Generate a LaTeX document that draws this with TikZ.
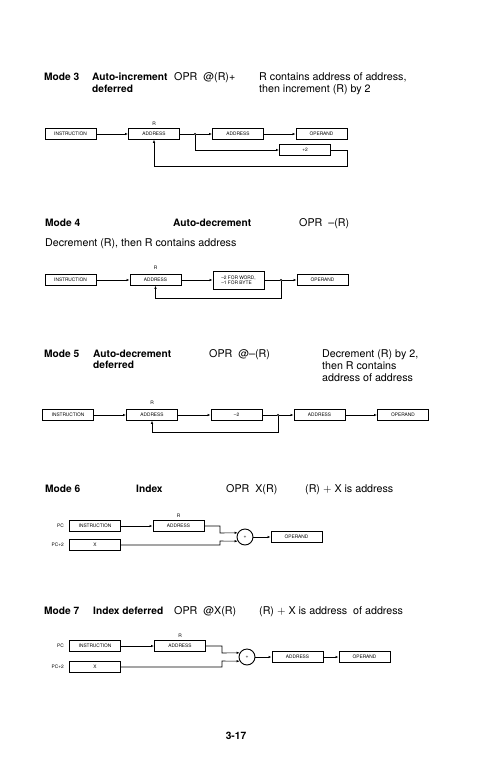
\documentclass[tikz,border=0pt]{standalone}
\usepackage{fontspec}
\setmainfont{TeX Gyre Heros}
\usepackage{tikz}
\usetikzlibrary{arrows.meta}
\tikzstyle{Box}=[draw,line width=1pt,minimum width=51pt,minimum height=10.5pt,
inner sep=0pt,font=\fontsize{4.8}{5.2}\selectfont]
\tikzstyle{Sum}=[circle,draw,line width=0.9pt,minimum size=16pt,inner sep=0pt,
font=\fontsize{5}{5}\selectfont]
\tikzstyle{Edge}=[draw,line width=0.6pt]
\tikzstyle{Arrow}=[Edge,-{Latex[length=3pt,width=2.4pt]}]
\tikzstyle{Dot}=[circle,fill,inner sep=0pt,minimum size=2.4pt]
\tikzstyle{Tiny}=[inner sep=0pt,font=\fontsize{4.8}{5.2}\selectfont]
\tikzstyle{Text}=[anchor=base west,inner sep=0pt,font=\fontsize{10.7}{12}\selectfont]
\tikzstyle{Head}=[Text,font=\fontsize{10.2}{12}\selectfont\bfseries]

\begin{document}
\begin{tikzpicture}[x=1pt,y=-1pt]
        \useasboundingbox(0,0)rectangle(500,760);
        % mode 3
        \node[Head](m3)at(44,80.5){Mode 3};
        \node[Head](n3)at(92,80.5){Auto-increment};
        \node[Head](d3)at(92,92.5){deferred};
        \node[Text](o3)at(174,80.5){OPR\ \ @(R)+};
        \node[Text](t3)at(259,80.5){R contains address of address,};
        \node[Text](u3)at(259,92.5){then increment (R) by 2};
        \node[Box](I3)at(70.5,134){INSTRUCTION};
        \node[Box](A3)at(154,134){ADDRESS};
        \node[Tiny](R3)at(154,124){R};
        \node[Dot](J3)at(195,134){};
        \node[Box](B3)at(238,134){ADDRESS};
        \node[Box](O3)at(321.5,134){OPERAND};
        \node[Box](P3)at(305,150){+2};
        \coordinate(K3)at(347,166);
        \draw[Arrow](I3)--(A3);
        \draw[Edge](A3)--(J3);
        \draw[Arrow](J3)--(B3);
        \draw[Arrow](B3)--(O3);
        \draw[Arrow](J3)|-(P3.west);
        \draw[Arrow](P3.east)-|(K3)-|(A3.south);
        % mode 4
        \node[Head](m4)at(45,226.5){Mode 4};
        \node[Head](n4)at(173,226.5){Auto-decrement};
        \node[Text](o4)at(299,226.5){OPR\ \ --(R)};
        \node[Text](t4)at(45,246.5){Decrement (R),\ then R contains address};
        \node[Box](I4)at(70.5,280){INSTRUCTION};
        \node[Box](A4)at(155.5,280){ADDRESS};
        \node[Tiny](R4)at(155.5,268){R};
        \node[Box,minimum height=18pt,align=left](D4)at(238.5,280){--2 FOR WORD,\\--1 FOR BYTE};
        \node[Dot](J4)at(281,280){};
        \node[Box](O4)at(322.5,280){OPERAND};
        \coordinate(K4)at(281,298);
        \draw[Arrow](I4)--(A4);
        \draw[Arrow](A4)--(D4);
        \draw[Edge](D4)--(J4);
        \draw[Arrow](J4)--(O4);
        \draw[Arrow](J4)--(K4)-|(A4.south);
        % mode 5
        \node[Head](m5)at(44,357.5){Mode 5};
        \node[Head](n5)at(93,357.5){Auto-decrement};
        \node[Head](d5)at(93,368.5){deferred};
        \node[Text](o5)at(209,357.5){OPR\ \ @--(R)};
        \node[Text](t5)at(322,357.5){Decrement (R) by 2,};
        \node[Text](u5)at(322,369.5){then R contains};
        \node[Text](v5)at(322,381.5){address of address};
        \node[Box](I5)at(68,415){INSTRUCTION};
        \node[Box](A5)at(152,415){ADDRESS};
        \node[Tiny](R5)at(152,403){R};
        \node[Box](M5)at(236.5,415){--2};
        \node[Dot](J5)at(278,415){};
        \node[Box](B5)at(319.5,415){ADDRESS};
        \node[Box](O5)at(403,415){OPERAND};
        \coordinate(K5)at(278,432);
        \draw[Arrow](I5)--(A5);
        \draw[Arrow](A5)--(M5);
        \draw[Edge](M5)--(J5);
        \draw[Arrow](J5)--(B5);
        \draw[Arrow](B5)--(O5);
        \draw[Arrow](J5)--(K5)-|(A5.south);
        % mode 6
        \node[Head](m6)at(45,492.5){Mode 6};
        \node[Head](n6)at(136,492.5){Index};
        \node[Text](o6)at(226,492.5){OPR\ \ X(R)};
        \node[Text](t6)at(305,492.5){(R) $+$ X is address};
        \node[Tiny,anchor=east](p6)at(64,526){PC};
        \node[Tiny,anchor=east](q6)at(64,545){PC+2};
        \node[Box](I6)at(95,526){INSTRUCTION};
        \node[Box](X6)at(95,545){X};
        \node[Box](A6)at(178.5,526){ADDRESS};
        \node[Tiny](R6)at(178.5,515.5){R};
        \node[Sum](S6)at(245,537){+};
        \node[Box](O6)at(296.5,537){OPERAND};
        \coordinate(U6)at(220,533);
        \coordinate(V6)at(220,541);
        \draw[Arrow](I6)--(A6);
        \draw[Arrow](A6.east)-|(U6)--(S6.150);
        \draw[Arrow](X6.east)-|(V6)--(S6.210);
        \draw[Arrow](S6)--(O6);
        % mode 7
        \node[Head](m7)at(44,614){Mode 7};
        \node[Head](n7)at(93,614){Index deferred};
        \node[Text](o7)at(174,614){OPR\ \ @X(R)};
        \node[Text](t7)at(259,614){(R) $+$ X is address\ \ of address};
        \node[Tiny,anchor=east](p7)at(64,646){PC};
        \node[Tiny,anchor=east](q7)at(64,667){PC+2};
        \node[Box](I7)at(95,646){INSTRUCTION};
        \node[Box](X7)at(95,667){X};
        \node[Box](A7)at(180,646){ADDRESS};
        \node[Tiny](R7)at(180,635.5){R};
        \node[Sum](S7)at(247,657){+};
        \node[Box](B7)at(297.5,657){ADDRESS};
        \node[Box](O7)at(364.5,657){OPERAND};
        \coordinate(U7)at(222,653);
        \coordinate(V7)at(222,661);
        \draw[Arrow](I7)--(A7);
        \draw[Arrow](A7.east)-|(U7)--(S7.150);
        \draw[Arrow](X7.east)-|(V7)--(S7.210);
        \draw[Arrow](S7)--(B7);
        \draw[Arrow](B7)--(O7);
        % page number
        \node[Head,anchor=base](pg)at(236,739){3-17};
    \end{tikzpicture}
\end{document}
